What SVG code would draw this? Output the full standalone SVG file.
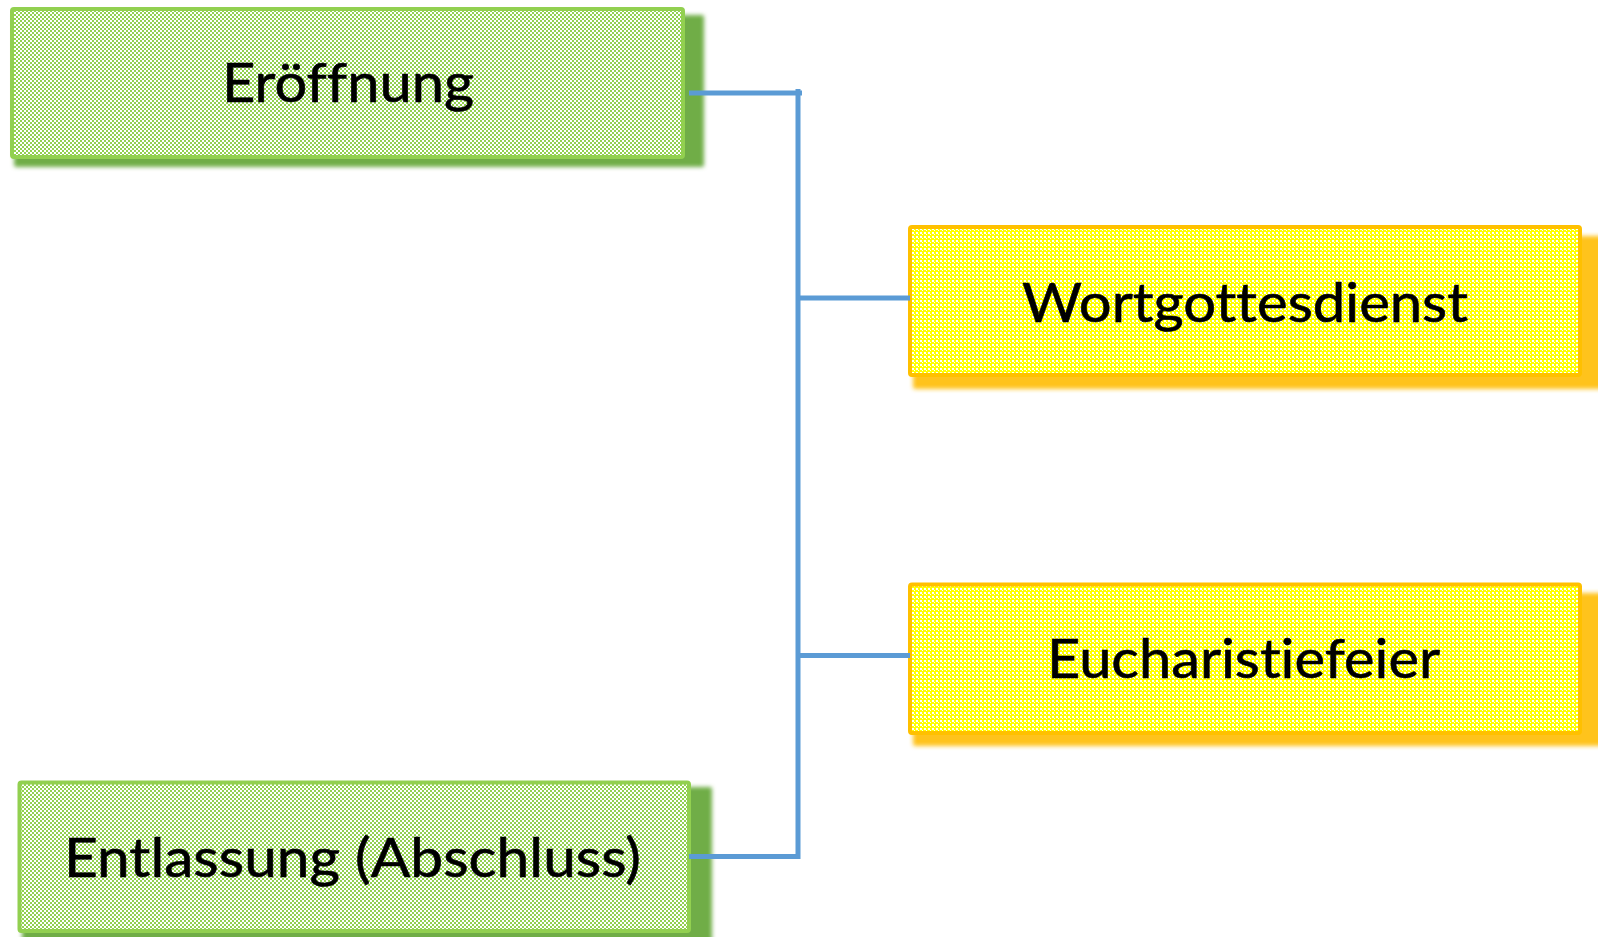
<svg xmlns="http://www.w3.org/2000/svg" width="1598" height="937" viewBox="0 0 1598 937">
  <defs>
    <pattern id="pGreen" width="4" height="4" patternUnits="userSpaceOnUse">
      <rect width="4" height="4" fill="#ffffff"/>
      <rect x="0" y="0" width="2" height="2" fill="#92D050"/>
      <rect x="2" y="2" width="2" height="2" fill="#92D050"/>
    </pattern>
    <pattern id="pYellow" width="4" height="4" patternUnits="userSpaceOnUse">
      <rect width="4" height="4" fill="#FFFF00"/>
      <rect x="0" y="0" width="2" height="2" fill="#ffffff"/>
      <rect x="2" y="2" width="1" height="1" fill="#ffffff"/>
    </pattern>
    <filter id="blur" x="-5%" y="-10%" width="110%" height="120%">
      <feGaussianBlur stdDeviation="2"/>
    </filter>
  </defs>
  <style>
    .gshadow { fill: #70AD47; filter: url(#blur); }
    .yshadow { fill: #FFC31F; filter: url(#blur); }
    .gbox { fill: url(#pGreen); stroke: #92D050; stroke-width: 4; }
    .ybox { fill: url(#pYellow); stroke: #FFC000; stroke-width: 4; }
    .label { font-family: Lato, "Open Sans", "Liberation Sans", sans-serif; font-size: 54px; fill: #000000; font-variant-ligatures: none; stroke: #000000; stroke-width: 0.6; }
    .conn { stroke: #5B9BD5; stroke-width: 5; fill: none; }
  </style>

  <g id="node-eroeffnung">
    <rect class="gshadow" x="14" y="15" width="690" height="152" rx="2"/>
    <rect class="gbox" x="12" y="9" width="671" height="148" rx="2"/>
    <text class="label" x="222" y="102" textLength="252" lengthAdjust="spacingAndGlyphs">Eröffnung</text>
  </g>

  <g id="node-wortgottesdienst">
    <rect class="yshadow" x="913" y="236" width="700" height="153" rx="2"/>
    <rect class="ybox" x="910" y="227" width="670" height="148" rx="2"/>
    <text class="label" x="1022" y="322" textLength="446" lengthAdjust="spacingAndGlyphs">Wortgottesdienst</text>
  </g>

  <g id="node-eucharistiefeier">
    <rect class="yshadow" x="913" y="593" width="700" height="153" rx="2"/>
    <rect class="ybox" x="910" y="584.5" width="670" height="148.5" rx="2"/>
    <text class="label" x="1047" y="678" textLength="393" lengthAdjust="spacingAndGlyphs">Eucharistiefeier</text>
  </g>

  <g id="node-entlassung">
    <rect class="gshadow" x="22" y="787" width="690" height="160" rx="2"/>
    <rect class="gbox" x="19.5" y="782.5" width="669.5" height="148.5" rx="2"/>
    <text class="label" x="64" y="877" textLength="577" lengthAdjust="spacingAndGlyphs">Entlassung (Abschluss)</text>
  </g>

  <g id="connectors">
    <line class="conn" x1="689" y1="93" x2="802" y2="93"/>
    <line class="conn" x1="798" y1="89" x2="798" y2="859"/>
    <line class="conn" x1="798" y1="298" x2="910" y2="298"/>
    <line class="conn" x1="798" y1="655.5" x2="910" y2="655.5"/>
    <line class="conn" x1="689" y1="856.5" x2="800" y2="856.5"/>
  </g>
</svg>
